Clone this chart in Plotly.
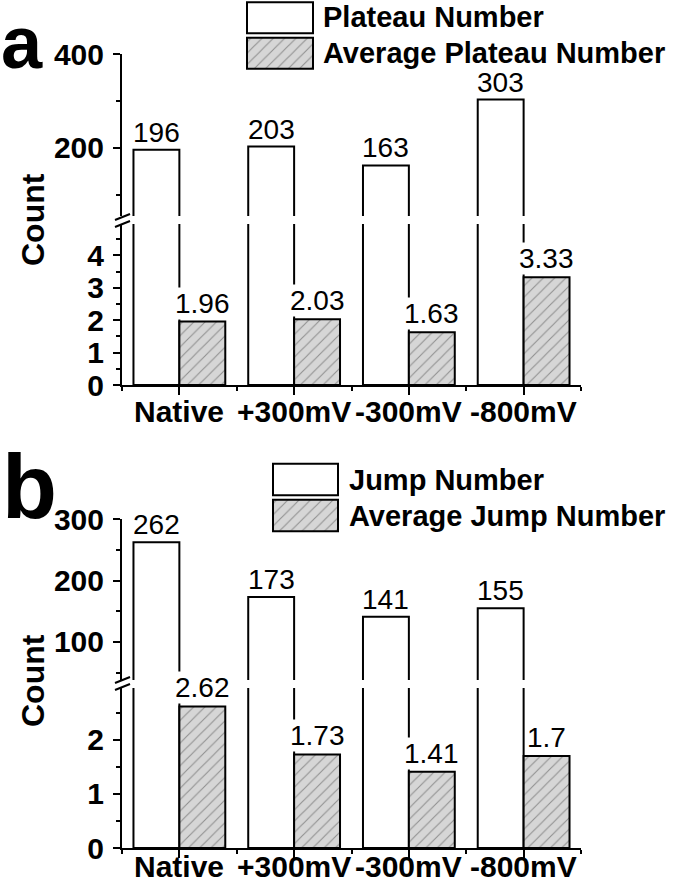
import plotly.graph_objects as go

# ---------------- data ----------------
categories = ["Native", "+300mV", "-300mV", "-800mV"]
plateau_number = [196, 203, 163, 303]
avg_plateau_number = [1.96, 2.03, 1.63, 3.33]
jump_number = [262, 173, 141, 155]
avg_jump_number = [2.62, 1.73, 1.41, 1.7]
legend_a = ["Plateau Number", "Average Plateau Number"]
legend_b = ["Jump Number", "Average Jump Number"]
panel_labels = ["a", "b"]
y_title = "Count"

# ---------------- layout helpers ----------------
W, H = 675, 885


def fx(p):
    return p / W


def fy(p):
    return 1 - p / H


FONT = "Liberation Sans, Arial, sans-serif"
BAR_W = 0.4
xpos = list(range(len(categories)))
GRAY = "#d6d6d6"
hatch = dict(shape="/", bgcolor=GRAY, fgcolor="#4a4a4a", size=8, solidity=0.14)
edge = dict(color="black", width=2)

fig = go.Figure()


def add_panel(xa, y_low, y_up, counts, avgs):
    fig.add_trace(go.Bar(x=xpos, y=counts, offset=-BAR_W, width=BAR_W,
                         marker=dict(color="white", line=edge),
                         xaxis=xa, yaxis=y_up, showlegend=False, hoverinfo="skip"))
    fig.add_trace(go.Bar(x=xpos, y=counts, offset=-BAR_W, width=BAR_W,
                         marker=dict(color="white", line=edge),
                         xaxis=xa, yaxis=y_low, showlegend=False, hoverinfo="skip"))
    fig.add_trace(go.Bar(x=xpos, y=avgs, offset=0, width=BAR_W,
                         marker=dict(color=GRAY, pattern=hatch, line=edge),
                         xaxis=xa, yaxis=y_low, showlegend=False, hoverinfo="skip"))


add_panel("x", "y", "y2", plateau_number, avg_plateau_number)
add_panel("x2", "y3", "y4", jump_number, avg_jump_number)


def add_legend_boxes(xa, ya):
    fig.add_trace(go.Bar(x=[1], y=[1], base=0, orientation="h", width=0.87,
                         marker=dict(color="white", line=edge),
                         xaxis=xa, yaxis=ya, showlegend=False, hoverinfo="skip"))
    fig.add_trace(go.Bar(x=[1], y=[0], base=0, orientation="h", width=0.87,
                         marker=dict(color=GRAY, pattern=hatch, line=edge),
                         xaxis=xa, yaxis=ya, showlegend=False, hoverinfo="skip"))


add_legend_boxes("x3", "y5")
add_legend_boxes("x4", "y6")

tickfont = dict(family=FONT, size=30, color="black", weight="bold")

xcommon = dict(range=[-0.5, 3.5], tickmode="array", tickvals=xpos, ticktext=categories,
               ticks="outside", ticklen=8, tickwidth=2, tickcolor="black",
               showticklabels=False,
               showline=True, linewidth=2, linecolor="black", showgrid=False,
               zeroline=False, tickfont=tickfont, automargin=False, fixedrange=True,
               minor=dict(tick0=0.5, dtick=1, ticks="outside", ticklen=4,
                          tickwidth=2, tickcolor="black"))


def ycommon(rng, dtick, mdtick):
    return dict(range=rng, tick0=0, dtick=dtick, ticks="outside", ticklen=7,
                tickwidth=2, tickcolor="black", showline=True, linewidth=2,
                linecolor="black", showgrid=False, zeroline=False, tickfont=tickfont,
                automargin=False, fixedrange=True, ticklabelstandoff=3,
                minor=dict(tick0=0, dtick=mdtick, ticks="outside", ticklen=4,
                           tickwidth=2, tickcolor="black"))


hidden = dict(visible=False, showgrid=False, zeroline=False, fixedrange=True)

fig.update_layout(
    width=W, height=H,
    margin=dict(l=0, r=0, t=0, b=0),
    paper_bgcolor="white", plot_bgcolor="rgba(0,0,0,0)",
    barmode="overlay",
    showlegend=False,
    font=dict(family=FONT, color="black"),
    xaxis=dict(domain=[fx(122), fx(581)], anchor="y", **xcommon),
    yaxis=dict(domain=[fy(385), fy(224)], anchor="x", **ycommon([0, 4.97], 1, 0.5)),
    yaxis2=dict(domain=[fy(216), fy(54)], anchor="x", **ycommon([55.3, 400], 200, 100)),
    xaxis2=dict(domain=[fx(122), fx(581)], anchor="y3", **xcommon),
    yaxis3=dict(domain=[fy(848), fy(688)], anchor="x2", **ycommon([0, 2.96], 1, 0.5)),
    yaxis4=dict(domain=[fy(680), fy(519)], anchor="x2", **ycommon([38.2, 300], 100, 50)),
    xaxis3=dict(domain=[fx(247 - 3.3), fx(313 + 3.3)], range=[-0.05, 1.05], anchor="y5", **hidden),
    yaxis5=dict(domain=[fy(71), fy(0)], range=[-0.5, 1.5], anchor="x3", **hidden),
    xaxis4=dict(domain=[fx(273 - 3.25), fx(338 + 3.25)], range=[-0.05, 1.05], anchor="y6", **hidden),
    yaxis6=dict(domain=[fy(533.5), fy(461.5)], range=[-0.5, 1.5], anchor="x4", **hidden),
)

annotations = []
labfont = dict(family=FONT, size=28, color="black")


def value_text(v):
    return f"{v:g}"


def add_value_labels(xa, y_low, y_up, counts, avgs):
    for i, (c, a) in enumerate(zip(counts, avgs)):
        annotations.append(dict(x=i - BAR_W / 2, y=c, xref=xa, yref=y_up, text=value_text(c),
                                showarrow=False, xanchor="center", yanchor="bottom",
                                yshift=1, font=labfont, borderpad=0))
        annotations.append(dict(x=i + BAR_W / 2, y=a, xref=xa, yref=y_low, text=value_text(a),
                                showarrow=False, xanchor="center", yanchor="bottom",
                                yshift=2, font=labfont, bgcolor="white", borderpad=0))


add_value_labels("x", "y", "y2", plateau_number, avg_plateau_number)
add_value_labels("x2", "y3", "y4", jump_number, avg_jump_number)

# category tick labels (placed close to the axis like the original)
for xa, ypx in [("x", 411), ("x2", 866)]:
    for i, cat in enumerate(categories):
        annotations.append(dict(x=i, y=fy(ypx), xref=xa, yref="paper", text=cat,
                                showarrow=False, xanchor="center", yanchor="middle",
                                font=tickfont))

legfont = dict(family=FONT, size=29, color="black", weight="bold")
for txt, ypx in zip(legend_a, [17.5, 53]):
    annotations.append(dict(x=fx(321), y=fy(ypx), xref="paper", yref="paper", text=txt,
                            showarrow=False, xanchor="left", yanchor="middle", font=legfont))
for txt, ypx in zip(legend_b, [479.5, 515.5]):
    annotations.append(dict(x=fx(347), y=fy(ypx), xref="paper", yref="paper", text=txt,
                            showarrow=False, xanchor="left", yanchor="middle", font=legfont))

# axis titles
for ypx in [220, 681]:
    annotations.append(dict(x=fx(33), y=fy(ypx), xref="paper", yref="paper", text=y_title,
                            showarrow=False, textangle=-90, xanchor="center", yanchor="middle",
                            font=dict(family=FONT, size=32, color="black", weight="bold")))

# panel letters
annotations.append(dict(x=0, y=1, xref="paper", yref="paper", text=panel_labels[0],
                        showarrow=False, xanchor="left", yanchor="top", borderpad=0,
                        font=dict(family=FONT, size=74, color="black", weight="bold")))
annotations.append(dict(x=0, y=fy(487), xref="paper", yref="paper", text=panel_labels[1],
                        showarrow=False, xanchor="left", yanchor="middle",
                        font=dict(family=FONT, size=90, color="black", weight="bold")))

fig.update_layout(annotations=annotations)

# axis break marks
shapes = []
for yb in [(220.5), (683.5)]:
    for dy in (-3.5, 3.5):
        shapes.append(dict(type="line", xref="paper", yref="paper",
                           x0=fx(115), y0=fy(yb + dy + 3), x1=fx(130), y1=fy(yb + dy - 3),
                           line=dict(color="black", width=2)))
fig.update_layout(shapes=shapes)

fig.write_html("out.html", config={"displayModeBar": False},
               post_script="document.body.style.margin='0';")
